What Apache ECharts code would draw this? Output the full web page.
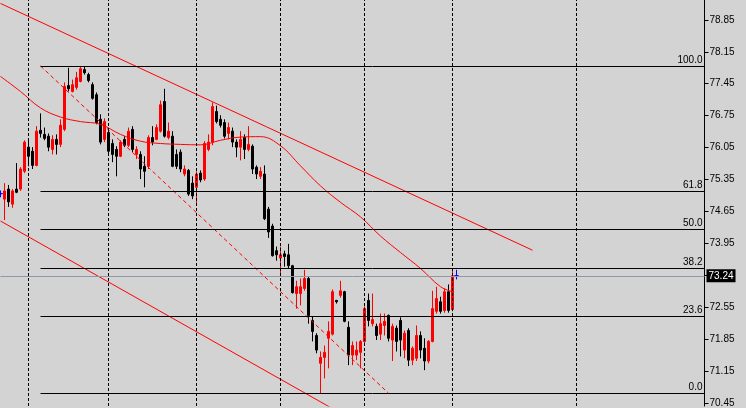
<!DOCTYPE html>
<html><head><meta charset="utf-8">
<script src="https://cdn.jsdelivr.net/npm/echarts@6/dist/echarts.min.js"></script>
<style>html,body{margin:0;padding:0;background:#d3d3d3}#c{width:746px;height:408px}</style>
</head><body><div id="c"></div>
<script>
// bar slots (time axis is not visible in the reference)
const categories = Array.from({length: 177}, (_, i) => String(i));

const opens = [null,74.92,75.14,74.81,75.14,75.14,75.53,76.06,75.97,75.66,
76.43,76.34,76.30,76.01,76.23,76.12,76.45,77.41,77.28,77.37,
77.50,77.76,77.65,77.43,77.21,76.67,76.23,76.38,76.14,76.01,
75.86,76.23,76.10,76.45,75.90,75.90,75.64,75.64,76.27,76.23,
76.41,77.06,76.27,76.30,75.90,75.95,75.47,75.55,75.27,75.18,
75.49,75.36,76.01,76.17,76.84,76.67,76.60,76.36,76.41,76.17,
76.06,76.27,76.01,76.08,75.62,75.42,75.47,74.70,74.33,73.79,
73.63,73.72,73.70,73.46,72.85,72.85,72.96,73.18,72.26,71.93,
71.32,71.45,71.87,71.96,72.70,72.81,72.89,72.11,71.50,71.50,
71.56,71.80,72.70,72.19,72.13,71.96,72.15,72.37,71.83,72.09,
72.26,71.61,72.04,71.39,71.43,71.93,71.65,71.37,71.80,72.46,
72.67,72.48,72.89,72.50];
const closes = [null,75.10,74.86,75.10,75.07,75.58,76.17,75.86,75.66,76.41,
76.36,76.25,76.06,76.23,76.12,76.54,77.39,77.34,77.43,77.58,
77.78,77.69,77.52,77.13,76.60,76.17,76.62,75.97,75.90,75.86,
76.17,76.10,76.41,76.01,76.01,75.58,75.53,76.27,76.17,76.49,
76.99,76.30,76.41,75.64,75.64,75.58,75.58,75.03,74.99,75.47,
75.34,76.14,76.17,76.95,76.62,76.54,76.30,76.49,76.17,76.06,
76.23,76.01,76.12,75.58,75.47,75.53,74.49,74.20,73.68,73.70,
73.70,73.66,73.46,72.87,73.00,73.00,73.18,72.37,72.02,71.61,
71.45,71.56,72.02,72.89,72.67,72.91,72.24,71.50,71.71,71.61,
71.80,72.52,72.26,72.28,71.93,72.19,72.24,71.87,72.13,71.80,
71.83,71.98,71.39,71.65,71.93,71.61,71.37,71.80,72.52,72.74,
72.46,72.89,72.48,73.24];
const lows = [null,74.46,74.75,74.73,75.05,75.10,75.49,75.64,75.58,75.64,
76.27,76.21,75.97,75.90,75.90,76.06,76.41,77.28,77.26,77.32,
77.48,77.65,77.48,77.10,76.56,76.12,76.17,75.90,75.73,75.42,
75.84,76.06,76.06,75.95,75.80,75.36,75.18,75.58,76.10,76.21,
76.38,76.27,76.23,75.62,75.58,75.51,75.42,74.99,74.92,74.81,
75.29,75.32,75.97,76.10,76.58,76.49,76.25,76.23,76.06,75.84,
75.77,75.80,75.97,75.47,75.36,75.36,74.46,74.07,73.66,73.57,
73.29,73.44,73.39,72.85,72.52,72.59,72.91,72.19,71.80,71.54,
70.665,70.99,71.21,71.93,72.63,72.76,72.22,71.28,71.28,71.39,
71.21,71.76,72.13,72.13,71.83,71.83,71.93,71.80,71.37,71.58,
71.47,71.43,71.26,71.28,71.37,71.43,71.17,71.32,71.78,72.41,
72.41,72.43,72.43,72.46];
const highs = [null,75.27,75.23,75.14,75.71,75.62,76.21,76.23,76.06,76.52,
76.80,76.49,76.36,76.32,76.34,76.67,77.48,77.80,77.54,77.71,
77.84,77.82,77.69,77.48,77.26,76.78,76.69,76.43,76.23,76.08,
76.21,76.30,76.49,76.52,76.08,75.97,75.86,76.32,76.52,76.56,
77.08,77.34,76.60,76.41,76.01,76.01,75.66,75.58,75.42,75.53,
75.55,76.19,76.34,77.04,76.97,76.76,76.67,76.60,76.49,76.23,
76.41,76.34,76.52,76.12,75.66,75.62,75.66,74.75,74.38,73.88,
73.88,73.79,73.94,73.48,73.13,73.18,73.37,73.22,72.35,71.98,
71.58,71.71,72.24,72.94,72.71,73.13,72.91,72.24,71.80,71.80,
71.83,72.57,72.85,72.85,72.19,72.41,72.41,72.39,72.19,72.15,
72.33,72.04,72.09,71.69,72.15,72.02,71.87,71.83,72.91,73.00,
72.78,72.96,73.05,73.35];

// blue doji-style bars (first and current bar)
const blueIdx = [0, 114];
const blueOpen = [75.04, 73.24];
const blueClose = [75.04, 73.24];
const blueLow = [74.96, 73.16];
const blueHigh = [75.11, 73.37];

// moving average samples [bar index, value]
const maIdx = [0,5,10,15,20,25,30,35,40,45,50,55,60,65,70,75,80,85,90,95,100,105,110,113];
const maVal = [77.61,77.28,76.92,76.72,76.62,76.56,76.34,76.19,76.14,76.12,76.11,76.21,76.28,76.29,76.09,75.65,75.21,74.85,74.53,74.11,73.75,73.40,73.00,72.89];

// trend lines: endpoints [bar index, price]
const upperLine = [[0, 79.21], [133, 73.80]];
const lowerLine = [[0, 74.44], [90, 69.98]];
const fibBase = [[10, 77.84], [97, 70.665]];

// Fibonacci retracement
const fibHigh = 77.84, fibLow = 70.665, fibStartIdx = 10, fibEndIdx = 176;
const fibLevels = [0, 23.6, 38.2, 50, 61.8, 100];

// period separators (bar indices)
const sepIdx = [7, 27, 49, 70, 91, 113, 144];

// price axis
const yTicks = [70.45,71.15,71.85,72.55,73.25,73.95,74.65,75.35,76.05,76.75,77.45,78.15,78.85];
const yTickLabels = [70.45,71.15,71.85,72.55,73.95,74.65,75.35,76.05,76.75,77.45,78.15,78.85];
const lastPrice = 73.24;

const RED = '#ff0000';
const FONT = 'Liberation Sans';

const candleData = opens.map((o, i) => o == null ? '-' : [o, closes[i], lows[i], highs[i]]);
const blueData = Array.from({length: 115}, () => '-');
blueIdx.forEach((b, k) => { blueData[b] = [blueOpen[k], blueClose[k], blueLow[k], blueHigh[k]]; });

const chart = echarts.init(document.getElementById('c'), null, {renderer: 'canvas'});
chart.setOption({
  animation: false,
  backgroundColor: '#d3d3d3',
  grid: {left: 0.5, right: 41.5, top: 0, bottom: 0, containLabel: false},
  xAxis: {
    type: 'category', data: categories, boundaryGap: false,
    axisLine: {show: false}, axisTick: {show: false}, axisLabel: {show: false}, splitLine: {show: false}
  },
  yAxis: {
    type: 'value', position: 'right', min: 70.384, max: 79.286, scale: true,
    axisLine: {show: true, lineStyle: {color: '#000', width: 1}},
    axisTick: {show: true, length: 4, customValues: yTicks, lineStyle: {color: '#000'}},
    axisLabel: {show: true, customValues: yTickLabels, margin: 5, color: '#000', fontSize: 10, fontFamily: FONT,
      formatter: v => Number(v).toFixed(2)},
    splitLine: {show: false}
  },
  series: [
    {
      type: 'line', data: lowerLine, symbol: 'none', z: 1, silent: true,
      lineStyle: {color: RED, width: 1},
      markLine: {
        silent: true, symbol: ['none', 'none'], animation: false,
        label: {show: false},
        lineStyle: {color: '#000', width: 1, type: [3, 2]},
        data: sepIdx.map(i => ({xAxis: categories[i]}))
      }
    },
    {
      type: 'candlestick', data: candleData, barWidth: 2, z: 3,
      itemStyle: {color: RED, color0: '#000', borderColor: RED, borderColor0: '#000', borderWidth: 1}
    },
    {
      type: 'candlestick', data: blueData, barWidth: 4, z: 3,
      itemStyle: {color: '#0000ff', color0: '#0000ff', borderColor: '#0000ff', borderColor0: '#0000ff', borderColorDoji: '#0000ff', borderWidth: 1}
    },
    {
      type: 'line', data: maIdx.map((x, k) => [x, maVal[k]]), symbol: 'none', smooth: 0.4, z: 4, silent: true,
      lineStyle: {color: RED, width: 1}
    },
    {
      type: 'line', data: upperLine, symbol: 'none', z: 4, silent: true,
      lineStyle: {color: RED, width: 1},
      markLine: {
        silent: true, symbol: ['none', 'none'], animation: false,
        lineStyle: {color: '#000', width: 1, type: 'solid'},
        data: fibLevels.map(l => {
          const v = fibLow + (fibHigh - fibLow) * l / 100;
          return [
            {coord: [categories[fibStartIdx], v], label: {show: true, position: 'insideEndTop', formatter: l.toFixed(1),
              color: '#000', fontSize: 10, fontFamily: FONT, distance: [2, 1]}},
            {coord: [categories[fibEndIdx], v]}
          ];
        })
      }
    },
    {
      type: 'line', data: fibBase, symbol: 'none', z: 4, silent: true,
      lineStyle: {color: RED, width: 1, type: [4, 3]},
      markLine: {
        silent: true, symbol: ['none', 'none'], animation: false,
        lineStyle: {color: '#8d99a6', width: 1, type: 'solid'},
        label: {show: true, position: 'end', formatter: lastPrice.toFixed(2), color: '#fff', backgroundColor: '#000',
          padding: [2, 2, 1, 2], fontSize: 10, fontFamily: FONT, distance: 2},
        data: [{yAxis: lastPrice}]
      }
    }
  ]
});
</script></body></html>
